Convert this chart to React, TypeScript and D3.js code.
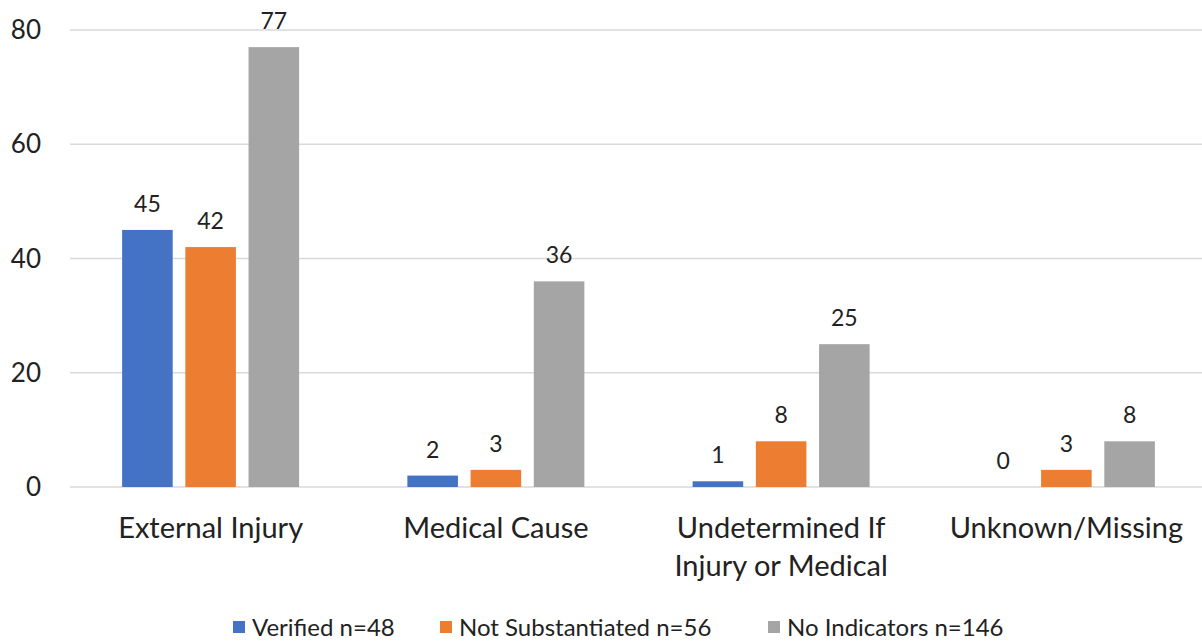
import React from "react";
import * as d3 from "d3";

const categories: string[][] = [
  ["External Injury"],
  ["Medical Cause"],
  ["Undetermined If", "Injury or Medical"],
  ["Unknown/Missing"],
];
const seriesNames = ["Verified n=48", "Not Substantiated n=56", "No Indicators n=146"];
const verified = [45, 2, 1, 0];
const notSubstantiated = [42, 3, 8, 3];
const noIndicators = [77, 36, 25, 8];
const colors = ["#4472C4", "#ED7D31", "#A5A5A5"];
const yTicks = [0, 20, 40, 60, 80];

const W = 1202;
const H = 641;
const FONT = "Lato, 'Open Sans', sans-serif";

export default function App() {
  const series = [verified, notSubstantiated, noIndicators];
  const x0 = d3.scaleBand<number>().domain(d3.range(categories.length)).range([68, 1209]).paddingInner(0).paddingOuter(0);
  const step = x0.bandwidth();
  const groupW = 177;
  const x1 = d3
    .scaleBand<number>()
    .domain(d3.range(series.length))
    .range([(step - groupW) / 2, (step + groupW) / 2])
    .paddingInner(0.2);
  const y = d3.scaleLinear().domain([0, 80]).range([487, 30]);

  const legendItems = [
    { x: 233, name: seriesNames[0] },
    { x: 440, name: seriesNames[1] },
    { x: 768, name: seriesNames[2] },
  ];

  return (
    <svg width={W} height={H} style={{ position: "absolute", left: 0, top: 0, background: "#fff" }}>
      {yTicks.map((t) => (
        <g key={t}>
          <line x1={70} x2={1202} y1={y(t)} y2={y(t)} stroke="#D9D9D9" strokeWidth={1.5} />
          <text x={41} y={y(t)} dy="0.35em" textAnchor="end" fontFamily={FONT} fontSize={26} fill="#222">
            {t}
          </text>
        </g>
      ))}
      {series.map((vals, si) =>
        vals.map((v, ci) => {
          const bx = (x0(ci) as number) + (x1(si) as number);
          const bw = x1.bandwidth();
          return (
            <g key={`${si}-${ci}`}>
              {v > 0 && (
                <rect x={bx} y={y(v)} width={bw} height={y(0) - y(v)} fill={colors[si]} />
              )}
              <text
                x={bx + bw / 2}
                y={y(v) - 18}
                textAnchor="middle"
                fontFamily={FONT}
                fontSize={23}
                fill="#222"
              >
                {v}
              </text>
            </g>
          );
        })
      )}
      {categories.map((lines, ci) => (
        <text
          key={ci}
          x={(x0(ci) as number) + step / 2}
          y={538}
          textAnchor="middle"
          fontFamily={FONT}
          fontSize={29}
          fill="#222"
        >
          {lines.map((l, li) => (
            <tspan key={li} x={(x0(ci) as number) + step / 2} dy={li === 0 ? 0 : 38}>
              {l}
            </tspan>
          ))}
        </text>
      ))}
      {legendItems.map((it, i) => (
        <g key={i}>
          <rect x={it.x} y={621} width={12} height={12} fill={colors[i]} />
          <text x={it.x + 19} y={636} fontFamily={FONT} fontSize={24} fill="#222">
            {it.name}
          </text>
        </g>
      ))}
    </svg>
  );
}
